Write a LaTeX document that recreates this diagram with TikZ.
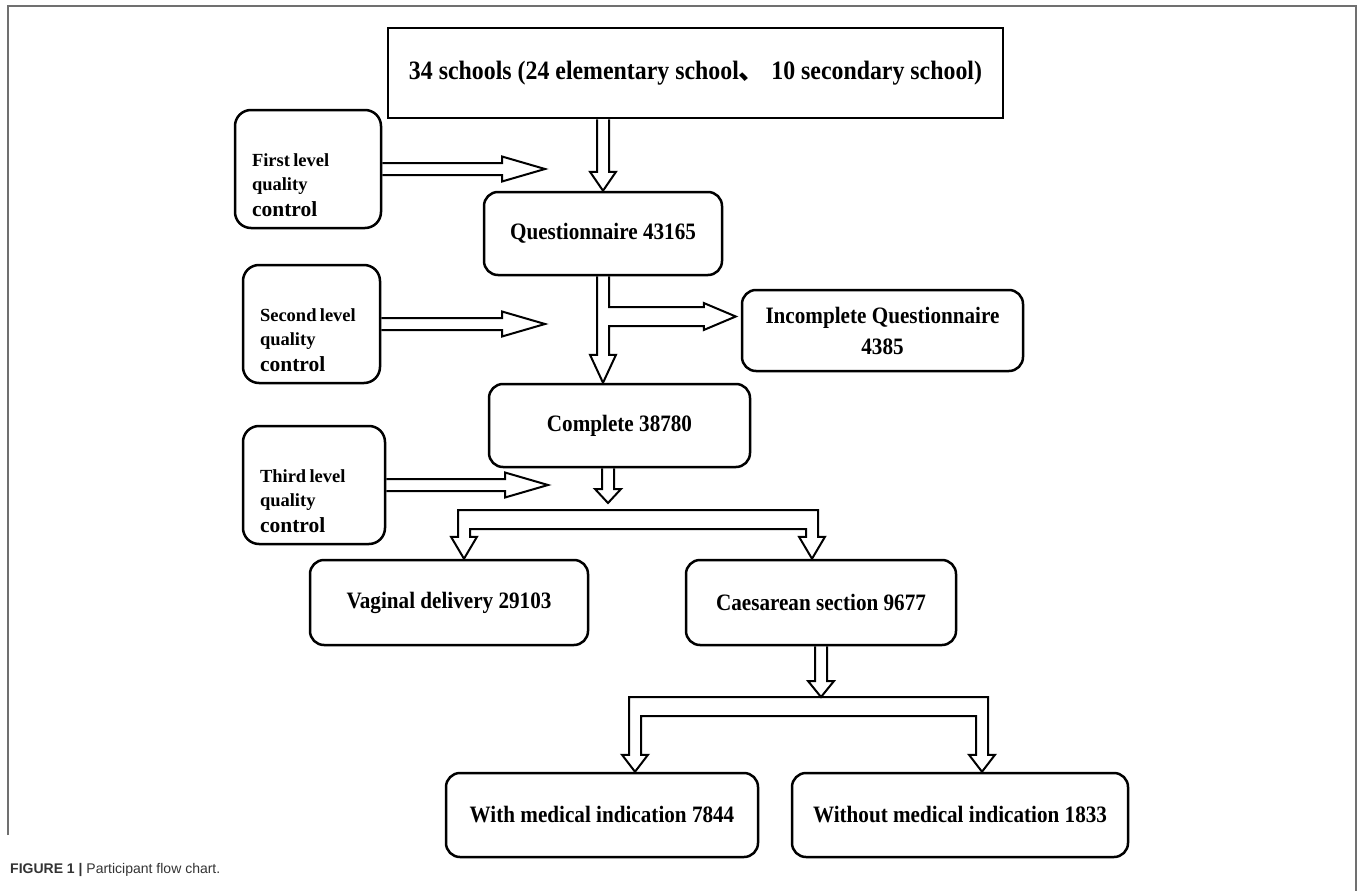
\documentclass[tikz,border=0pt]{standalone}
\usepackage{fontspec}
\setmainfont{Liberation Serif}
\newfontfamily\boxfont[FakeStretch=0.9]{Liberation Serif}
\newfontfamily\cjkfont{Noto Sans CJK SC}
\newfontfamily\capfont{Liberation Sans}
\usetikzlibrary{calc}

\definecolor{framegray}{HTML}{707070}
\definecolor{capgray}{HTML}{333333}

\tikzset{
  flowbox/.style={draw, line width=2.5pt, rounded corners=14pt, align=center,
    inner sep=0pt, font=\boxfont\fontsize{23.5}{31}\selectfont\bfseries},
  ctrlbox/.style={draw, line width=2.5pt, rounded corners=16pt, align=left,
    inner xsep=17pt, inner ysep=0pt, minimum height=118pt, font=\bfseries},
  blockline/.style={line width=2pt, line join=miter}
}

% hollow arrow pointing down: tail at #2, tip at the height of #3
\newcommand{\downblock}[3][19]{%
  \draw[blockline] let \p1=(#2), \p2=(#3) in
    (\x1-6pt,\y1) -- (\x1-6pt,\y2+#1pt) -- (\x1-13pt,\y2+#1pt) -- (\x1,\y2)
    -- (\x1+13pt,\y2+#1pt) -- (\x1+6pt,\y2+#1pt) -- (\x1+6pt,\y1);}

% hollow arrow pointing right: tail at #2, tip at #3
\newcommand{\rightblock}[3][43]{%
  \draw[blockline] let \p1=(#2), \p2=(#3) in
    (\x1,\y1+6pt) -- (\x2-#1pt,\y1+6pt) -- (\x2-#1pt,\y1+12.5pt) -- (\x2,\y1)
    -- (\x2-#1pt,\y1-12.5pt) -- (\x2-#1pt,\y1-6pt) -- (\x1,\y1-6pt);}

% hollow bar splitting into two arrows: bar top at #2, tips #3 and #4
\newcommand{\splitblock}[4][19]{%
  \draw[blockline] let \p1=(#2), \p2=(#3), \p3=(#4) in
    (\x2-6pt,\y2+#1pt) -- (\x2-6pt,\y1) -- (\x3+6pt,\y1) -- (\x3+6pt,\y3+#1pt)
    -- (\x3+13pt,\y3+#1pt) -- (\x3,\y3) -- (\x3-13pt,\y3+#1pt) -- (\x3-6pt,\y3+#1pt)
    -- (\x3-6pt,\y1-19pt) -- (\x2+6pt,\y1-19pt) -- (\x2+6pt,\y2+#1pt)
    -- (\x2+13pt,\y2+#1pt) -- (\x2,\y2) -- (\x2-13pt,\y2+#1pt) -- cycle;}

\begin{document}
\begin{tikzpicture}[x=1pt, y=-1pt]
  \useasboundingbox (0,0) rectangle (1358,891);
  \draw[framegray, line width=2pt] (8,835) -- (8,6) -- (1356,6) -- (1356,891);

  % boxes
  \node (schools) [draw, line width=2.5pt, minimum width=615pt, minimum height=90pt,
    font=\boxfont\fontsize{26.5}{31}\selectfont\bfseries] at (695.5,73)
    {34 schools (24 elementary school{\cjkfont 、} 10 secondary school)};
  \node (quest) [flowbox, minimum width=238pt, minimum height=83pt] at (603,233.5) {Questionnaire 43165};
  \node (incompl) [flowbox, minimum width=281pt, minimum height=81pt] at (882.5,330.5) {Incomplete Questionnaire\\4385};
  \node (complete) [flowbox, minimum width=261pt, minimum height=83pt] at (619.5,425.5) {Complete 38780};
  \node (vaginal) [flowbox, minimum width=278pt, minimum height=85pt] at (449,602.5) {Vaginal delivery 29103};
  \node (caes) [flowbox, minimum width=270pt, minimum height=85pt] at (821,602.5) {Caesarean section 9677};
  \node (withind) [flowbox, minimum width=312pt, minimum height=84pt] at (602,815) {With medical indication 7844};
  \node (without) [flowbox, minimum width=336pt, minimum height=84pt] at (960,815) {Without medical indication 1833};

  \node (first) [ctrlbox, text width=112pt] at (308,169)
    {\fontsize{18.5}{24}\selectfont\rule{0pt}{46pt}First level\\quality\\[6pt]\fontsize{21.5}{24}\selectfont control};
  \node (second) [ctrlbox, text width=103pt] at (311.5,324)
    {\fontsize{18.5}{24}\selectfont\rule{0pt}{46pt}Second level\\quality\\[6pt]\fontsize{21.5}{24}\selectfont control};
  \node (third) [ctrlbox, text width=108pt] at (314,485)
    {\fontsize{18.5}{24}\selectfont\rule{0pt}{46pt}Third level\\quality\\[6pt]\fontsize{21.5}{24}\selectfont control};

  % free ends
  \coordinate (tip1) at (545,166);
  \coordinate (tip2) at (545,330);
  \coordinate (tip3) at (548,487);
  \coordinate (gap1) at (608,503);
  \coordinate (split1) at (608,510);
  \coordinate (split2) at (820,697);

  % arrows
  \downblock{schools.south -| quest.north}{quest.north}
  \rightblock{first.east}{tip1}
  \rightblock{second.east}{tip2}
  \rightblock{third.east}{tip3}
  \draw[blockline] let \p1=(quest.south), \p2=(complete.north), \p3=(incompl.west) in
    (\x1-6pt,\y1) -- (\x1-6pt,\y2+28pt) -- (\x1-13pt,\y2+28pt) -- (\x1,\y2)
    -- (\x1+13pt,\y2+28pt) -- (\x1+6pt,\y2+28pt) -- (\x1+6pt,\y3+4.5pt)
    -- (\x3-37pt,\y3+4.5pt) -- (\x3-37pt,\y3+0.5pt) -- (\x3-5pt,\y3+14pt)
    -- (\x3-37pt,\y3+27.5pt) -- (\x3-37pt,\y3+23.5pt) -- (\x1+6pt,\y3+23.5pt)
    -- (\x1+6pt,\y1);
  \downblock[14]{complete.south -| gap1}{gap1}
  \splitblock[22]{split1}{$(vaginal.north)+(15,0)$}{$(caes.north)+(-9,0)$}
  \downblock[16]{caes.south}{split2}
  \splitblock[17]{split2}{$(withind.north)+(33,0)$}{$(without.north)+(22,0)$}

  % caption
  \node (caption) [anchor=base west, inner sep=0pt, text=capgray,
    font=\capfont\fontsize{14}{16}\selectfont] at (10,873)
    {\textbf{FIGURE 1 |} Participant flow chart.};
\end{tikzpicture}
\end{document}
